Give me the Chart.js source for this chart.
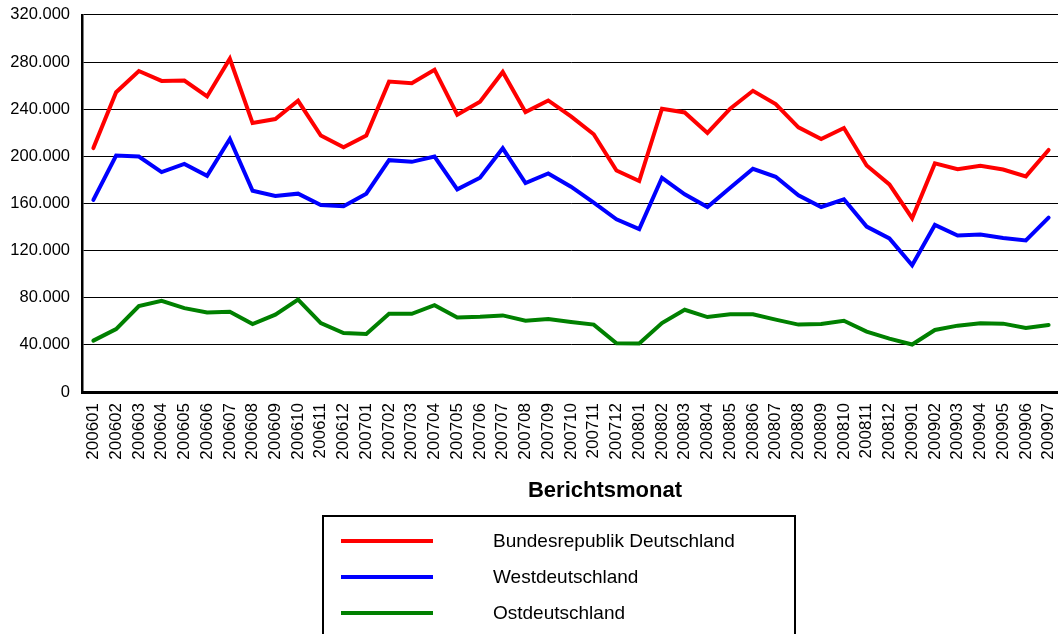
<!DOCTYPE html>
<html>
<head>
<meta charset="utf-8">
<script src="https://cdn.jsdelivr.net/npm/chart.js@4.4.1/dist/chart.umd.min.js"></script>
<style>
  html, body { margin: 0; padding: 0; background: #fff; overflow: hidden; }
  #marco { width: 1058px; height: 634px; overflow: hidden; position: relative; }
  #grafico { position: absolute; left: 0; top: -7px; }
</style>
</head>
<body>
<div id="marco"><canvas id="grafico" width="1080" height="641"></canvas></div>
<script>
// DATOS
var meses = ['200601','200602','200603','200604','200605','200606','200607','200608','200609','200610','200611','200612',
  '200701','200702','200703','200704','200705','200706','200707','200708','200709','200710','200711','200712',
  '200801','200802','200803','200804','200805','200806','200807','200808','200809','200810','200811','200812',
  '200901','200902','200903','200904','200905','200906','200907'];

var bundesrepublik = [207000, 254400, 272400, 264000, 264300, 250800, 282800, 228200, 231600, 247100, 217600, 207700,
  217600, 263400, 262000, 273500, 235300, 246300, 271600, 237500, 247400, 233900, 218700, 188000,
  179000, 240400, 237200, 219800, 240400, 255600, 244300, 224600, 214700, 224000, 192200, 176200,
  147500, 194000, 189100, 191900, 188800, 183000, 205400];

var west = [163000, 200700, 199800, 186600, 193600, 183500, 214700, 170800, 166300, 168300, 158700, 157600,
  168300, 196700, 195300, 199800, 172000, 181800, 206800, 177300, 185500, 174200, 160700, 146600,
  138200, 181800, 167800, 157000, 173300, 189400, 182600, 166900, 157000, 163500, 140400, 130300,
  107500, 141800, 132800, 133600, 130600, 128600, 148000];

var ost = [43600, 53400, 72900, 77400, 71200, 67500, 68100, 57700, 65600, 78500, 58500, 50100,
  49200, 66400, 66400, 73700, 63300, 63900, 65000, 60500, 61900, 59400, 57200, 41400,
  41100, 58500, 69800, 63600, 65900, 65900, 61400, 57200, 57700, 60500, 51200, 45300,
  40300, 52600, 56300, 58300, 58000, 54300, 56800];

var nombresSeries = ['Bundesrepublik Deutschland', 'Westdeutschland', 'Ostdeutschland'];
var tituloX = 'Berichtsmonat';

var fuente = "'Liberation Sans', Arial, sans-serif";

function puntos(n) {
  var s = String(Math.round(n));
  return s.replace(/\B(?=(\d{3})+(?!\d))/g, '.');
}

// LEYENDA Y TITULO DIBUJADOS EN EL CANVAS (el canvas esta 7px mas arriba)
var leyendaCaja = {
  id: 'leyendaCaja',
  afterDraw: function (chart) {
    var ctx = chart.ctx;
    ctx.save();
    ctx.translate(0, 7);
    // titulo del eje x
    ctx.fillStyle = '#000';
    ctx.font = 'bold 22px ' + fuente;
    ctx.textAlign = 'center';
    ctx.textBaseline = 'middle';
    ctx.fillText(tituloX, 605, 491);

    // caja
    ctx.strokeStyle = '#000';
    ctx.lineWidth = 2;
    ctx.strokeRect(323, 516, 472, 130);

    var ys = [541, 577, 613];
    ctx.font = '19px ' + fuente;
    ctx.textAlign = 'left';
    chart.data.datasets.forEach(function (ds, i) {
      ctx.strokeStyle = ds.borderColor;
      ctx.lineWidth = 4;
      ctx.beginPath();
      ctx.moveTo(341, ys[i]);
      ctx.lineTo(433, ys[i]);
      ctx.stroke();
      ctx.fillStyle = '#000';
      ctx.fillText(ds.label, 493, ys[i] + 1);
    });
    ctx.restore();
  }
};

function serie(nombre, datos, color) {
  return {
    label: nombre,
    data: datos,
    borderColor: color,
    backgroundColor: color,
    borderWidth: 4,
    pointRadius: 0,
    tension: 0,
    borderCapStyle: 'round',
    fill: false
  };
}

function grafico(ctxRef) {
  var chart = new Chart(ctxRef, {
    type: 'line',
    data: {
      labels: meses,
      datasets: [
        serie(nombresSeries[0], bundesrepublik, '#ff0000'),
        serie(nombresSeries[1], west, '#0000ff'),
        serie(nombresSeries[2], ost, '#008000')
      ]
    },
    options: {
      responsive: false,
      animation: false,
      layout: { padding: { top: 13, left: 0, right: 0, bottom: 0 } },
      plugins: {
        legend: { display: false },
        tooltip: { enabled: false }
      },
      scales: {
        x: {
          offset: true,
          grid: { display: false, drawTicks: false },
          border: { display: true, color: '#000', width: 3 },
          ticks: {
            autoSkip: false,
            maxRotation: 90,
            minRotation: 90,
            padding: 11,
            color: '#000',
            font: { family: fuente, size: 17 }
          },
          afterFit: function (scale) { scale.height = 242; }
        },
        y: {
          min: 0,
          max: 320000,
          grid: { color: '#000', lineWidth: 1, drawTicks: false },
          border: { display: true, color: '#000', width: 2.5 },
          ticks: {
            stepSize: 40000,
            padding: 12,
            color: '#000',
            font: { family: fuente, size: 16.5 },
            callback: function (v) { return puntos(v); }
          },
          afterFit: function (scale) { scale.width = 82; }
        }
      }
    },
    plugins: [leyendaCaja]
  });
  return chart;
}

var ctx = document.getElementById('grafico').getContext('2d');
grafico(ctx);
</script>
</body>
</html>
